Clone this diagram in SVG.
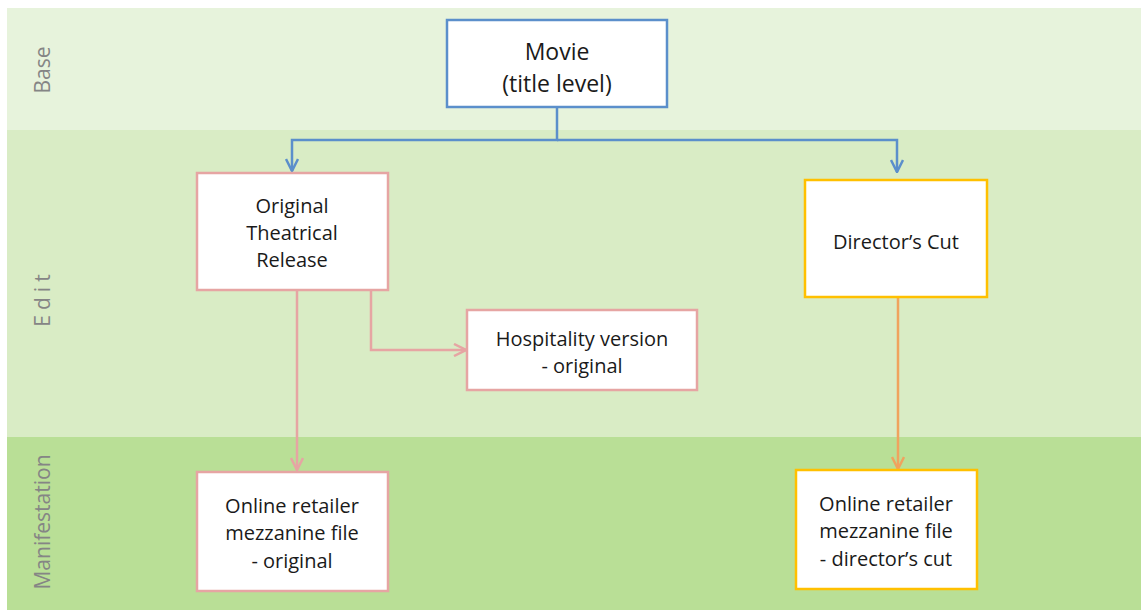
<svg xmlns="http://www.w3.org/2000/svg" width="1141" height="610" viewBox="0 0 1141 610">
<style>
.lane{font-family:"Open Sans","Liberation Sans",Arial,sans-serif;font-size:21px;fill:#858585}
.t{font-family:"Open Sans","Liberation Sans",Arial,sans-serif;font-size:20px;fill:#1a1a1a;text-anchor:middle}
.big{font-size:23px}
.box{fill:#fff;stroke-width:2.5}
.blue{stroke:#5b8fcb}
.pink{stroke:#e6a5a3}
.yel{stroke:#ffc000}
.c{fill:none;stroke-width:2.5}
</style>
<defs>
<marker id="ab" viewBox="0 0 14 14" refX="13" refY="7" markerWidth="14" markerHeight="14" markerUnits="userSpaceOnUse" orient="auto"><polyline points="1,1 13,7 1,13" fill="none" stroke="#5b8fcb" stroke-width="2.5"/></marker>
<marker id="ap" viewBox="0 0 14 14" refX="13" refY="7" markerWidth="14" markerHeight="14" markerUnits="userSpaceOnUse" orient="auto"><polyline points="1,1 13,7 1,13" fill="none" stroke="#e6a5a3" stroke-width="2.5"/></marker>
<marker id="ao" viewBox="0 0 14 14" refX="13" refY="7" markerWidth="14" markerHeight="14" markerUnits="userSpaceOnUse" orient="auto"><polyline points="1,1 13,7 1,13" fill="none" stroke="#f0a35e" stroke-width="2.5"/></marker>
</defs>
<rect width="1141" height="610" fill="#fff"/>
<g id="lanes">
<rect x="7" y="8" width="1134" height="122" fill="#e7f3dc"/>
<rect x="7" y="130" width="1134" height="307" fill="#d9ecc5"/>
<rect x="7" y="437" width="1134" height="173" fill="#b9df96"/>
<text class="lane" transform="translate(50,70) rotate(-90)" text-anchor="middle">Base</text>
<text class="lane" transform="translate(50,298) rotate(-90)" text-anchor="middle" letter-spacing="5">Edit</text>
<text class="lane" transform="translate(50,522) rotate(-90)" text-anchor="middle">Manifestation</text>
</g>
<g id="connectors">
<path class="c" d="M557,107 V140 H292 V171" stroke="#5b8fcb" marker-end="url(#ab)"/>
<path class="c" d="M557,140 H897 V172" stroke="#5b8fcb" marker-end="url(#ab)"/>
<path class="c" d="M297,290 V470" stroke="#e6a5a3" marker-end="url(#ap)"/>
<path class="c" d="M371,290 V350 H466" stroke="#e6a5a3" marker-end="url(#ap)"/>
<path class="c" d="M898,297 V469" stroke="#f0a35e" marker-end="url(#ao)"/>
</g>
<g id="movie">
<rect class="box blue" x="447" y="20" width="220" height="87"/>
<text class="t big" x="557" y="60">Movie</text>
<text class="t big" x="557" y="92">(title level)</text>
</g>
<g id="original">
<rect class="box pink" x="197" y="173" width="191" height="117"/>
<text class="t" x="292" y="213">Original</text>
<text class="t" x="292" y="240">Theatrical</text>
<text class="t" x="292" y="267">Release</text>
</g>
<g id="directors-cut">
<rect class="box yel" x="805" y="180" width="182" height="117"/>
<text class="t" x="896" y="249">Director’s Cut</text>
</g>
<g id="hospitality">
<rect class="box pink" x="467" y="310" width="230" height="80"/>
<text class="t" x="582" y="346">Hospitality version</text>
<text class="t" x="582" y="373">- original</text>
</g>
<g id="online-original">
<rect class="box pink" x="197" y="472" width="191" height="119"/>
<text class="t" x="292" y="513">Online retailer</text>
<text class="t" x="292" y="540">mezzanine file</text>
<text class="t" x="292" y="568">- original</text>
</g>
<g id="online-directors">
<rect class="box yel" x="796" y="470" width="181" height="119"/>
<text class="t" x="886" y="511">Online retailer</text>
<text class="t" x="886" y="538">mezzanine file</text>
<text class="t" x="886" y="566">- director’s cut</text>
</g>
</svg>
